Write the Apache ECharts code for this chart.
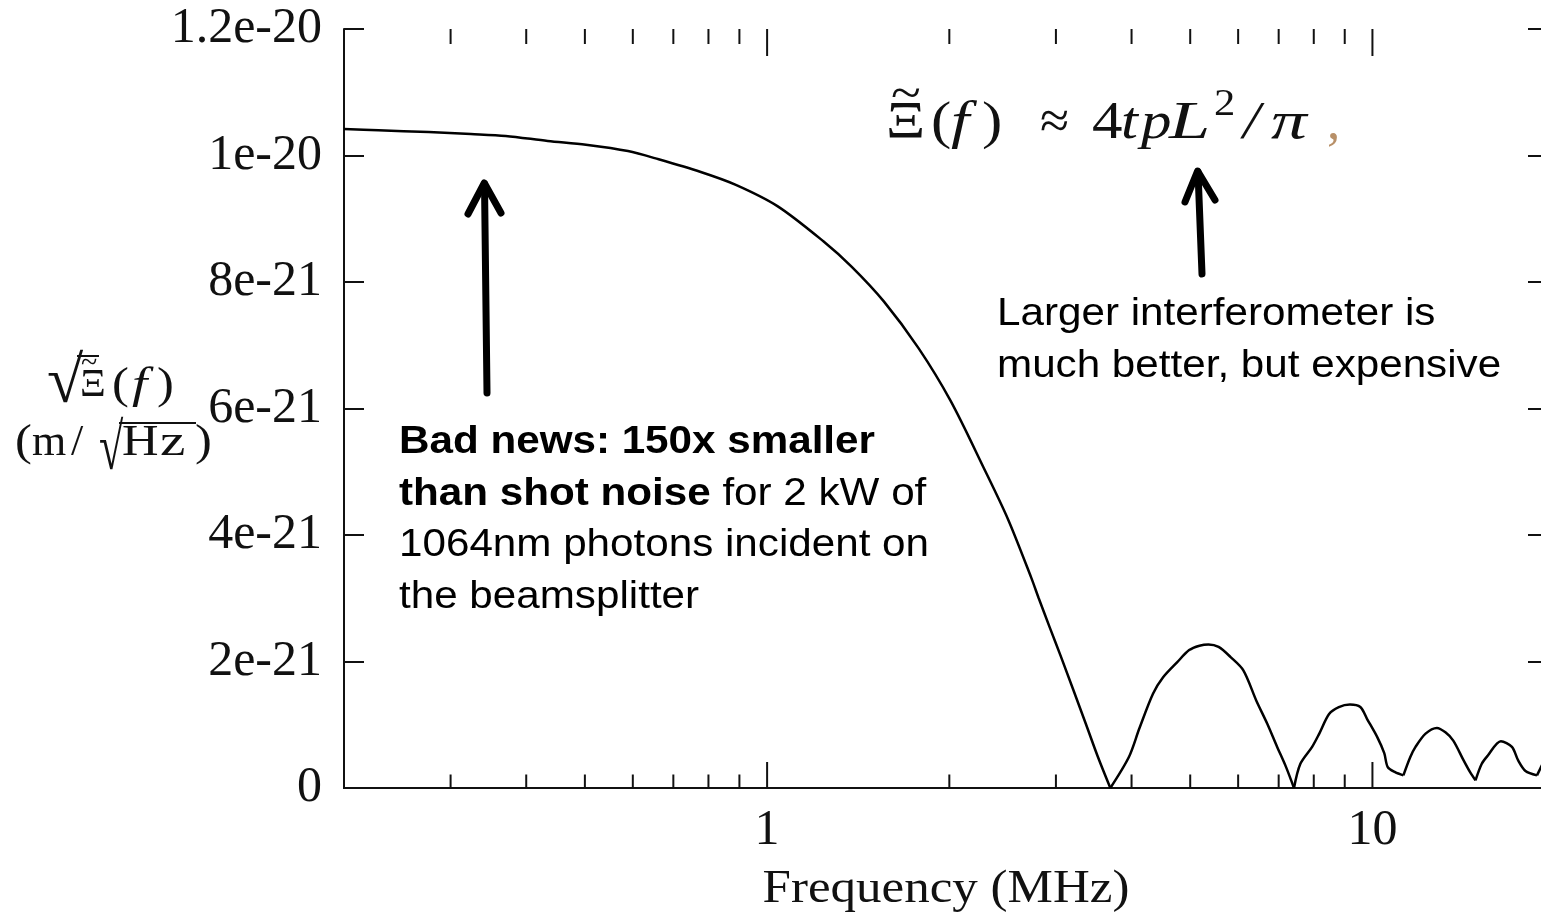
<!DOCTYPE html>
<html><head><meta charset="utf-8">
<script src="https://cdn.jsdelivr.net/npm/echarts@6/dist/echarts.min.js"></script>
<style>html,body{margin:0;padding:0;background:#fff}#c{width:1541px;height:917px}</style>
</head><body><div id="c"></div>
<script>
// Frequency in MHz and sqrt(Xi(f)) in units of 1e-21 m/sqrt(Hz)
const freqMHz = [0.2, 0.228, 0.276, 0.324, 0.37, 0.434, 0.502, 0.589, 0.662, 0.777,
  0.886, 1.04, 1.24, 1.38, 1.56, 1.78, 2.01, 2.28, 2.5, 2.73,
  2.81, 2.93, 3.06, 3.36, 3.52, 3.69, 3.96, 4.12, 4.34, 4.51,
  4.76, 4.98, 5.18, 5.36, 5.57, 5.83, 6.12, 6.43, 6.7, 6.96,
  7.2, 7.42, 7.6, 7.95, 8.17, 8.48, 8.8, 9.18, 9.55, 9.8,
  10.19, 10.46, 10.6, 10.9, 11.25, 11.55, 11.78, 12.24, 12.78, 13.2,
  13.6, 14.14, 14.5, 14.8, 15.15, 15.5, 16.3, 17.0, 17.4, 17.9,
  18.7, 19.1];
const asdE21 = [10.42, 10.40, 10.37, 10.34, 10.31, 10.23, 10.17, 10.07, 9.94, 9.74,
  9.54, 9.20, 8.64, 8.24, 7.69, 6.95, 6.12, 5.06, 4.25, 3.33,
  3.00, 2.54, 2.07, 1.02, 0.49, 0, 0.49, 0.94, 1.49, 1.75,
  1.99, 2.18, 2.25, 2.27, 2.23, 2.07, 1.86, 1.38, 1.02, 0.65,
  0.33, 0, 0.38, 0.65, 0.86, 1.17, 1.28, 1.32, 1.28, 1.09,
  0.80, 0.55, 0.33, 0.25, 0.20, 0.49, 0.65, 0.86, 0.95, 0.88,
  0.75, 0.44, 0.25, 0.12, 0.38, 0.51, 0.74, 0.65, 0.44, 0.27,
  0.20, 0.38];
// indices of the dips (the curve is drawn lobe by lobe so the dips stay sharp)
const dipIndex = [0, 25, 41, 54, 63, 70, 71];
const xMinorTicks = [0.3, 0.4, 0.5, 0.6, 0.7, 0.8, 0.9, 2, 3, 4, 5, 6, 7, 8, 9];
const xTickValues = [1, 10];
const xTickLabels = ['1', '10'];
const yTickLabels = ['0', '2e-21', '4e-21', '6e-21', '8e-21', '1e-20', '1.2e-20'];

const SERIF = '"Liberation Serif", "DejaVu Serif", serif';
const SANS = '"Liberation Sans", Arial, sans-serif';
const INK = '#111';

function txt(text, x, y, size, o, sx) {
  return { type: 'text', x: x, y: y, scaleX: sx || 1, silent: true, z: 10,
    style: Object.assign({ text: text, fontSize: size, fontFamily: SERIF, fontStyle: 'normal',
      fill: INK, align: 'left', verticalAlign: 'middle', textAlign: 'left', textVerticalAlign: 'middle' }, o || {}) };
}
const IT = { fontStyle: 'italic' };
const CEN = { align: 'center', textAlign: 'center' };
function seg(points, w) {
  return { type: 'polyline', silent: true, z: 10, shape: { points: points },
    style: { stroke: '#000', lineWidth: w, lineCap: 'round', lineJoin: 'round', fill: null } };
}
function hline(x1, x2, y) {
  return { type: 'line', silent: true, z: 10, shape: { x1: x1, y1: y, x2: x2, y2: y }, style: { stroke: INK, lineWidth: 2 } };
}

const tokenB = { fontFamily: SANS, fontWeight: 'bold', fontSize: 38, lineHeight: 51.5, fill: '#000' };
const tokenN = { fontFamily: SANS, fontWeight: 'normal', fontSize: 38, lineHeight: 51.5, fill: '#000' };
const FS = 1.15;

const graphics = [
  // formula
  txt('Ξ', 886, 124, 53, null, FS),
  txt('~', 906, 96, 50, CEN, 1.1),
  txt('(', 931, 124, 53, null, FS),
  txt('f', 951, 124, 53, IT, 1.25),
  txt(')', 982, 124, 53, null, FS),
  txt('≈', 1040, 124, 53),
  txt('4', 1092, 124, 53, null, FS),
  txt('t', 1121, 124, 53, IT, FS),
  txt('p', 1141, 124, 53, IT, FS),
  txt('L', 1169, 124, 53, IT, 1.4),
  txt('2', 1214, 105.5, 37, null, FS),
  txt('/', 1243, 124, 53, IT, FS),
  txt('π', 1271, 124, 53, IT, 1.35),
  txt(',', 1327, 124, 53, { fill: '#b89068' }),
  // y axis title
  txt('√', 47, 385, 66),
  hline(77, 99, 356),
  txt('Ξ', 80, 385.5, 40),
  txt('~', 89, 364, 30, CEN),
  txt('(', 112, 386, 44, null, 1.15),
  txt('f', 132, 386, 44, IT, 1.25),
  txt(')', 157, 386, 44, null, 1.15),
  txt('(', 15, 443, 44, null, 1.15),
  txt('m', 32, 443, 44),
  txt('/', 71, 443, 44),
  txt('√', 99, 452, 66, null, 0.67),
  hline(119, 196, 423),
  txt('H', 122, 443, 44, null, 1.15),
  txt('z', 160, 443, 44, null, 1.3),
  txt(')', 195, 443, 44, null, 1.15),
  // x axis title
  txt('Frequency (MHz)', 946, 890, 47, CEN, 1.085),
  // annotations
  { type: 'text', x: 399, y: 417, scaleX: 1.11, silent: true, z: 10,
    style: { text: '{b|Bad news: 150x smaller}\n{b|than shot noise}{n| for 2 kW of}\n{n|1064nm photons incident on}\n{n|the beamsplitter}',
      rich: { b: tokenB, n: tokenN }, fontFamily: SANS, fontSize: 38, lineHeight: 51.5,
      align: 'left', verticalAlign: 'top', textAlign: 'left', textVerticalAlign: 'top', fill: '#000' } },
  { type: 'text', x: 997, y: 289, scaleX: 1.11, silent: true, z: 10,
    style: { text: '{n|Larger interferometer is}\n{n|much better, but expensive}',
      rich: { n: tokenN }, fontFamily: SANS, fontSize: 38, lineHeight: 50,
      align: 'left', verticalAlign: 'top', textAlign: 'left', textVerticalAlign: 'top', fill: '#000' } },
  // arrows
  seg([[487, 393], [484.5, 184]], 7),
  seg([[468, 214], [484.3, 183], [501, 213]], 7),
  seg([[1202, 274], [1198, 172]], 7),
  seg([[1185, 202], [1197.6, 171], [1215, 200]], 7)
];

function xLabel(v) {
  for (let i = 0; i < xTickValues.length; i++) if (Math.abs(v - xTickValues[i]) < 1e-9) return xTickLabels[i];
  return '';
}
const axisLineStyle = { show: true, lineStyle: { color: INK, width: 2 } };

const curveSeries = [];
for (let k = 0; k + 1 < dipIndex.length; k++) {
  const pts = [];
  for (let i = dipIndex[k]; i <= dipIndex[k + 1]; i++) pts.push([freqMHz[i], asdE21[i]]);
  curveSeries.push({
    type: 'line', xAxisIndex: 0, yAxisIndex: 0, data: pts,
    showSymbol: false, symbol: 'none', silent: true, z: 3, smooth: 0.3,
    lineStyle: { color: '#000', width: 2.5 }
  });
}

const tickData = xMinorTicks.map(function (v) { return [v, 0, 0]; })
  .concat(xTickValues.map(function (v) { return [v, 0, 1]; }));

const chart = echarts.init(document.getElementById('c'), null, { renderer: 'canvas' });
chart.setOption({
  animation: false,
  backgroundColor: '#fff',
  grid: { left: 344, top: 29, right: -7, bottom: 129, outerBoundsMode: 'none', containLabel: false },
  xAxis: [{
    type: 'log', logBase: 10, min: 0.2, max: 19.5, position: 'bottom',
    axisLine: axisLineStyle, axisTick: { show: false },
    axisLabel: { show: true, formatter: xLabel, showMinLabel: false, showMaxLabel: false, margin: 18,
      fontFamily: SERIF, fontSize: 50, color: INK },
    splitLine: { show: false }
  }, {
    type: 'log', logBase: 10, min: 0.2, max: 19.5, position: 'top',
    axisLine: axisLineStyle, axisTick: { show: false },
    axisLabel: { show: false }, splitLine: { show: false }
  }],
  yAxis: [{
    type: 'value', min: 0, max: 12, interval: 2, position: 'left',
    axisLine: axisLineStyle,
    axisTick: { show: true, inside: true, length: 20, lineStyle: { color: INK, width: 2 } },
    axisLabel: { formatter: function (v) { return yTickLabels[Math.round(v / 2)]; }, margin: 22,
      fontFamily: SERIF, fontSize: 50, color: INK },
    splitLine: { show: false }
  }, {
    type: 'value', min: 0, max: 12, interval: 2, position: 'right',
    axisLine: axisLineStyle,
    axisTick: { show: true, inside: true, length: 20, lineStyle: { color: INK, width: 2 } },
    axisLabel: { show: false }, splitLine: { show: false }
  }],
  series: curveSeries.concat([{
    type: 'custom', xAxisIndex: 0, yAxisIndex: 0, silent: true, z: 4, clip: false,
    data: tickData,
    encode: { x: 0, y: 1 },
    renderItem: function (params, api) {
      const x = api.coord([api.value(0), 0])[0];
      const major = api.value(2) === 1;
      const cs = params.coordSys;
      const yb = cs.y + cs.height;
      const lb = major ? 26 : 13.5, lt = major ? 27 : 15;
      return { type: 'group', children: [
        { type: 'line', shape: { x1: x, y1: yb, x2: x, y2: yb - lb }, style: { stroke: INK, lineWidth: 2 } },
        { type: 'line', shape: { x1: x, y1: cs.y, x2: x, y2: cs.y + lt }, style: { stroke: INK, lineWidth: 2 } }
      ] };
    }
  }]),
  graphic: { elements: graphics }
});
</script>
</body></html>
